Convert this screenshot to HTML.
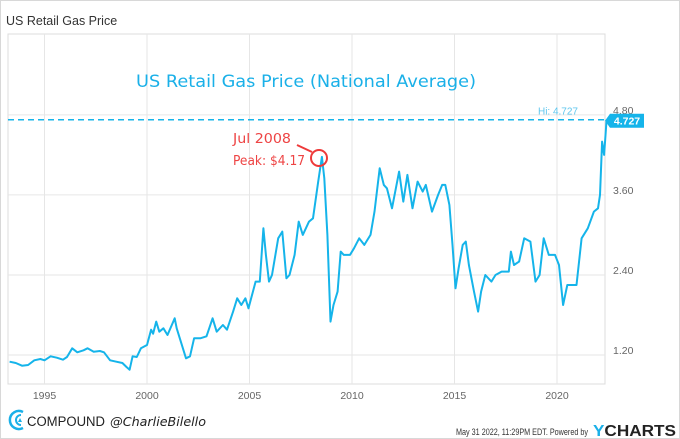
<!DOCTYPE html>
<html><head><meta charset="utf-8"><style>
body{margin:0;background:#fff;}
#root{position:relative;width:680px;height:439px;overflow:hidden;font-family:"Liberation Sans",sans-serif;box-sizing:border-box;border:1px solid #d8d8d8;}
</style></head><body>
<div id="root">
<svg id="svg" width="680" height="439" xmlns="http://www.w3.org/2000/svg">
<text x="5" y="24" font-size="12.5" fill="#333">US Retail Gas Price</text>
<rect x="7" y="33" width="597" height="350" fill="none" stroke="#dcdcdc"/>
<g id="grid"></g>
<text x="305" y="86" text-anchor="middle" font-size="17" fill="#1ab0e8" font-family="DejaVu Sans, sans-serif" textLength="340" lengthAdjust="spacingAndGlyphs">US Retail Gas Price (National Average)</text>
<path id="line" fill="none" stroke="#15b4ea" stroke-width="2" stroke-linejoin="round"/>
<line id="hiline" x1="7" x2="604" stroke="#15b4ea" stroke-width="1.5" stroke-dasharray="6,4"/>
<text id="hitext" x="577" text-anchor="end" font-size="10" fill="#5ec6ee">Hi: 4.727</text>
<g id="tag"></g>
<circle cx="318" cy="157" r="8" fill="none" stroke="#ee3a3a" stroke-width="2"/>
<line x1="296" y1="144" x2="311" y2="151" stroke="#ee3a3a" stroke-width="2"/>
<text x="232" y="142" font-size="13" fill="#ee4444" font-family="DejaVu Sans, sans-serif" textLength="58" lengthAdjust="spacingAndGlyphs">Jul 2008</text>
<text x="232" y="164" font-size="13" fill="#ee4444" font-family="DejaVu Sans, sans-serif" textLength="72" lengthAdjust="spacingAndGlyphs">Peak: $4.17</text>
<g>
<path d="M22 411 A9 9 0 1 0 22 427" fill="none" stroke="#1ab0e8" stroke-width="2.5"/>
<path d="M20 414 A5 5 0 1 0 20 424" fill="none" stroke="#1ab0e8" stroke-width="2"/>
<polygon points="17,421 19,417 21,421" fill="#1ab0e8"/>
</g>
<text x="26" y="425" font-size="13.5" fill="#222" textLength="78" lengthAdjust="spacingAndGlyphs">COMPOUND</text>
<text x="109" y="425" font-size="12" fill="#222" font-style="italic" font-family="DejaVu Sans, sans-serif" textLength="96" lengthAdjust="spacingAndGlyphs">@CharlieBilello</text>
<text x="455" y="434" font-size="9" fill="#333" textLength="132" lengthAdjust="spacingAndGlyphs">May 31 2022, 11:29PM EDT.  Powered by</text>
<text x="592" y="435" font-size="16" font-weight="bold" fill="#222" textLength="83" lengthAdjust="spacingAndGlyphs"><tspan fill="#1ab0e8">Y</tspan>CHARTS</text>
</svg>
</div>
<script>
const years=[1993.3,1993.6,1993.9,1994.2,1994.5,1994.8,1995.0,1995.3,1995.6,1995.9,1996.1,1996.35,1996.6,1996.9,1997.1,1997.4,1997.7,1997.9,1998.2,1998.5,1998.8,1999.0,1999.15,1999.3,1999.5,1999.7,2000.0,2000.2,2000.3,2000.45,2000.6,2000.8,2001.0,2001.35,2001.45,2001.6,2001.9,2002.1,2002.3,2002.6,2002.9,2003.2,2003.4,2003.7,2003.9,2004.2,2004.4,2004.6,2004.8,2004.95,2005.3,2005.5,2005.68,2005.8,2005.95,2006.1,2006.4,2006.6,2006.8,2006.95,2007.2,2007.4,2007.6,2007.9,2008.1,2008.35,2008.53,2008.65,2008.8,2008.95,2009.1,2009.3,2009.45,2009.6,2009.9,2010.1,2010.35,2010.6,2010.9,2011.1,2011.35,2011.55,2011.7,2011.95,2012.3,2012.5,2012.7,2012.95,2013.2,2013.45,2013.6,2013.9,2014.2,2014.4,2014.55,2014.75,2014.9,2015.05,2015.2,2015.4,2015.55,2015.7,2015.95,2016.15,2016.3,2016.5,2016.8,2017.0,2017.3,2017.65,2017.75,2017.9,2018.15,2018.4,2018.7,2018.95,2019.15,2019.35,2019.6,2019.9,2020.1,2020.3,2020.5,2020.75,2020.95,2021.2,2021.5,2021.8,2022.0,2022.1,2022.2,2022.3,2022.42];
const prices=[1.10,1.08,1.04,1.05,1.12,1.14,1.12,1.18,1.16,1.13,1.17,1.30,1.24,1.27,1.30,1.25,1.26,1.24,1.12,1.10,1.08,1.02,0.98,1.18,1.17,1.30,1.35,1.58,1.52,1.70,1.55,1.60,1.50,1.75,1.60,1.45,1.15,1.18,1.45,1.45,1.48,1.75,1.55,1.65,1.58,1.85,2.05,1.95,2.05,1.90,2.30,2.30,3.10,2.70,2.30,2.40,2.95,3.05,2.35,2.40,2.70,3.20,3.00,3.20,3.25,3.80,4.17,3.85,3.00,1.70,1.95,2.15,2.75,2.70,2.70,2.80,2.95,2.85,3.00,3.35,4.00,3.75,3.70,3.40,3.95,3.50,3.90,3.40,3.80,3.65,3.75,3.35,3.60,3.75,3.75,3.45,2.85,2.20,2.50,2.85,2.90,2.55,2.15,1.85,2.15,2.40,2.30,2.40,2.45,2.45,2.75,2.55,2.60,2.95,2.90,2.30,2.40,2.95,2.70,2.70,2.55,1.95,2.25,2.25,2.25,2.95,3.10,3.35,3.40,3.60,4.40,4.20,4.727];
const yTicks=[1.20,2.40,3.60,4.80];
const xTicks=[1995,2000,2005,2010,2015,2020];
const hiValue=4.727;
const NS="http://www.w3.org/2000/svg";
const X=y=>43.5+(y-1995)*20.5;
const Y=v=>354-(v-1.2)*66.7;
const svg=document.getElementById('svg'),grid=document.getElementById('grid');
yTicks.forEach(t=>{
 const l=document.createElementNS(NS,'line');
 l.setAttribute('x1',7);l.setAttribute('x2',604);l.setAttribute('y1',Y(t));l.setAttribute('y2',Y(t));l.setAttribute('stroke','#e6e6e6');
 
 
 grid.appendChild(l);
 const tx=document.createElementNS(NS,'text');
 tx.setAttribute('x',612);tx.setAttribute('y',Y(t)-1);tx.setAttribute('font-size','10.5');tx.setAttribute('fill','#666');tx.textContent=t.toFixed(2);
 
 
 grid.appendChild(tx);
});
xTicks.forEach(t=>{
 const l=document.createElementNS(NS,'line');
 l.setAttribute('x1',X(t));l.setAttribute('x2',X(t));l.setAttribute('y1',33);l.setAttribute('y2',383);l.setAttribute('stroke','#e6e6e6');
 
 
 grid.appendChild(l);
 const tx=document.createElementNS(NS,'text');
 tx.setAttribute('x',X(t));tx.setAttribute('y',398);tx.setAttribute('text-anchor','middle');tx.setAttribute('font-size','10.5');tx.setAttribute('fill','#666');tx.textContent=t;
 
 
 grid.appendChild(tx);
});
document.getElementById('line').setAttribute('d',years.map((y,i)=>(i?'L':'M')+X(y).toFixed(1)+' '+Y(prices[i]).toFixed(1)).join(' '));
const hy=Y(hiValue);
const hl=document.getElementById('hiline');hl.setAttribute('y1',hy);hl.setAttribute('y2',hy);
document.getElementById('hitext').setAttribute('y',hy-5);
const tag=document.getElementById('tag');
const last=prices[prices.length-1];
const ty=Y(last)+1;
const p=document.createElementNS(NS,'polygon');
p.setAttribute('points',`604,${ty} 609,${ty-7} 643,${ty-7} 643,${ty+7} 609,${ty+7}`);p.setAttribute('fill','#15b4ea');


tag.appendChild(p);
const tt=document.createElementNS(NS,'text');
tt.setAttribute('x',626);tt.setAttribute('y',ty+4);tt.setAttribute('text-anchor','middle');tt.setAttribute('font-size','10.5');tt.setAttribute('font-weight','bold');tt.setAttribute('fill','#fff');tt.textContent=last.toFixed(3);


tag.appendChild(tt);
</script>
</body></html>
